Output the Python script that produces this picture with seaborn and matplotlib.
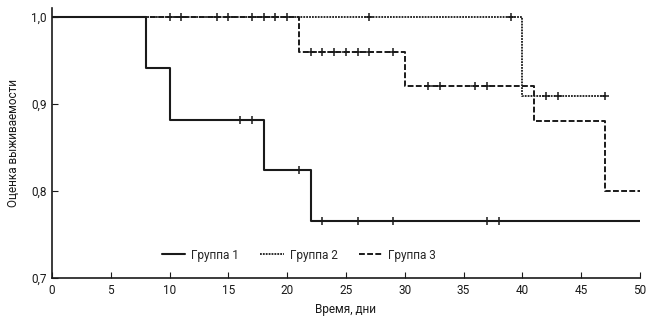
import numpy as np
import pandas as pd
import matplotlib
matplotlib.use("Agg")
import matplotlib.pyplot as plt
import seaborn as sns

# Step-curve data (time of event, survival after event)
g1_t = [0, 8, 10, 18, 22, 50]
g1_s = [1.0, 0.941, 0.882, 0.824, 0.765, 0.765]
g1_c = [16, 17, 21, 23, 26, 29, 37, 38]

g2_t = [0, 40, 47]
g2_s = [1.0, 0.909, 0.909]
g2_c = [10, 11, 14, 15, 17, 18, 19, 20, 27, 39, 42, 43, 47]

g3_t = [0, 21, 30, 41, 47, 50]
g3_s = [1.0, 0.96, 0.92, 0.88, 0.80, 0.80]
g3_c = [22, 23, 24, 25, 26, 27, 29, 32, 33, 36, 37]

labels = ["Группа 1", "Группа 2", "Группа 3"]
xticks = [0, 5, 10, 15, 20, 25, 30, 35, 40, 45, 50]
yticks = [0.7, 0.8, 0.9, 1.0]
ytick_labels = ["0,7", "0,8", "0,9", "1,0"]

sns.set_style("ticks")
plt.rcParams['font.family'] = ['Roboto', 'DejaVu Sans']

fig = plt.figure(figsize=(6.53, 3.24), dpi=100)
ax = fig.add_axes([0.0796, 0.142, 0.9004, 0.833])

def surv_at(ts, ss, t):
    idx = np.searchsorted(ts, t, side='right') - 1
    return ss[idx]

styles = [dict(ls='-', lw=1.5), dict(ls=(0, (1, 0.6)), lw=1.3), dict(ls=(0, (3, 1.2)), lw=1.4)]
color = '#1a1a1a'
groups = [(g1_t, g1_s, g1_c), (g2_t, g2_s, g2_c), (g3_t, g3_s, g3_c)]
for (ts, ss, cs), lab, st in zip(groups, labels, styles):
    df = pd.DataFrame({'t': ts, 's': ss})
    sns.lineplot(data=df, x='t', y='s', ax=ax, drawstyle='steps-post', estimator=None,
                 sort=False, color=color, label=lab, **st)
    cdf = pd.DataFrame({'t': cs, 's': [surv_at(ts, ss, c) for c in cs]})
    sns.scatterplot(data=cdf, x='t', y='s', ax=ax, marker='+', s=30, color=color,
                    linewidth=1.1, legend=False, zorder=3)

ax.set_xlim(0, 50)
ax.set_ylim(0.7, 1.01)
ax.set_xticks(xticks)
ax.set_xticklabels([str(x) for x in xticks], fontsize=8.5)
ax.set_yticks(yticks)
ax.set_yticklabels(ytick_labels, fontsize=8.5)
ax.tick_params(direction='in', length=4, width=0.8, colors=color, pad=4)
ax.set_xlabel("Время, дни", fontsize=8.5, labelpad=5, color=color)
ax.set_ylabel("Оценка выживаемости", fontsize=8.5, labelpad=8, color=color)
for sp in ['top', 'right']:
    ax.spines[sp].set_visible(False)
for sp in ['left', 'bottom']:
    ax.spines[sp].set_linewidth(1.2)
    ax.spines[sp].set_color(color)

ax.legend(loc='center', bbox_to_anchor=(0.42, 0.085), ncol=3, frameon=False, fontsize=8.5,
          handlelength=2.0, handletextpad=0.5, columnspacing=1.8)

fig.savefig("out.png", dpi=100)
